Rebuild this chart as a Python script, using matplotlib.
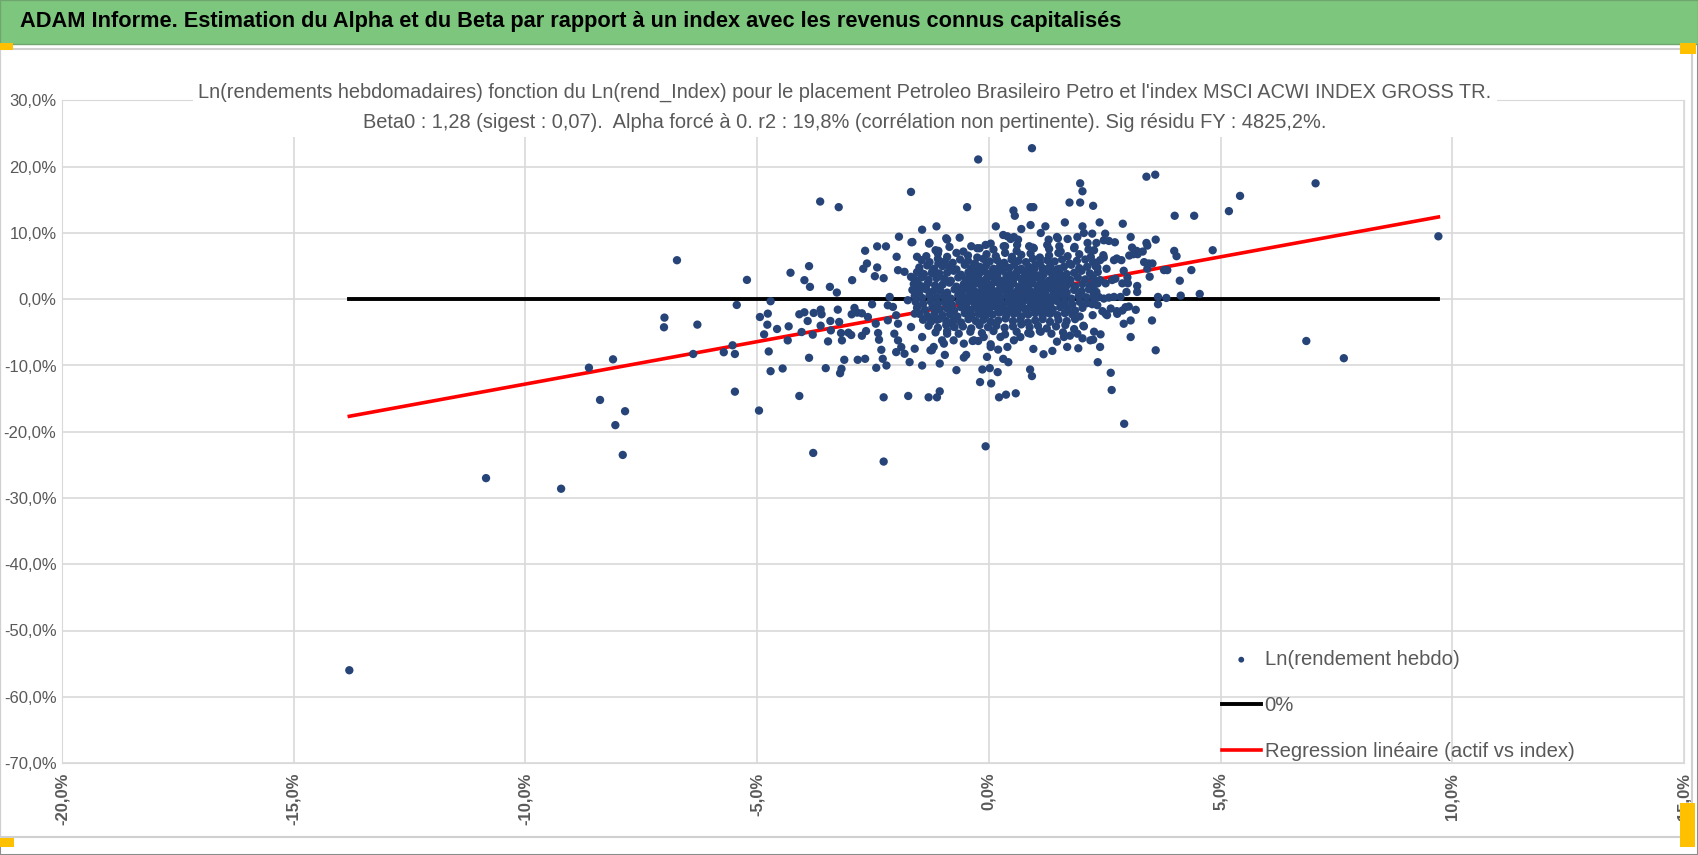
import matplotlib.pyplot as plt
from matplotlib.patches import Rectangle
from matplotlib.ticker import FuncFormatter
import numpy as np

plt.rcParams["font.family"] = ["Liberation Sans Narrow", "Liberation Sans", "DejaVu Sans"]

banner_text = "ADAM Informe. Estimation du Alpha et du Beta par rapport à un index avec les revenus connus capitalisés"
chart_title = ("Ln(rendements hebdomadaires) fonction du Ln(rend_Index) pour le placement Petroleo Brasileiro Petro et l'index MSCI ACWI INDEX GROSS TR.\n"
               "Beta0 : 1,28 (sigest : 0,07).  Alpha forcé à 0. r2 : 19,8% (corrélation non pertinente). Sig résidu FY : 4825,2%.")
legend_labels = ["Ln(rendement hebdo)", "0%", "Regression linéaire (actif vs index)"]
beta = 1.28

# weekly log returns (%), index on x, asset on y -- isolated points
outlier_pts = [(-13.8, -56.0), (-10.85, -27.0), (-9.23, -28.6), (-6.73, 5.89), (-5.22, 2.92), (-5.44, -0.86),
               (-7.0, -2.77), (-7.01, -4.23), (-6.29, -3.83), (-6.38, -8.26), (-5.72, -8.0), (-5.53, -6.95),
               (-5.48, -8.26), (-5.48, -13.95), (-8.63, -10.33), (-8.11, -9.07), (-8.39, -15.2), (-7.85, -16.9),
               (-8.06, -19.0), (-7.9, -23.5), (-2.27, -24.5), (-3.79, -23.2), (-0.07, -22.2), (-4.09, -14.6),
               (-4.96, -16.8), (-2.27, -14.8), (-1.74, -14.6), (7.05, 17.5), (6.85, -6.3), (7.66, -8.9), (9.7, 9.5),
               (3.40, 18.5), (3.59, 18.8), (2.92, -18.8), (2.65, -13.7), (-0.23, 21.1), (0.93, 22.8)]

left_pts = [(-4.71, -0.30), (-4.94, -2.68), (-4.77, -2.17), (-4.78, -3.84), (-4.85, -5.30), (-4.57, -4.49),
            (-4.75, -7.88), (-4.71, -10.86), (-4.45, -10.45), (-4.32, -4.09), (-4.34, -6.21), (-4.09, -2.27),
            (-3.98, -1.97), (-3.91, -3.28), (-3.78, -2.07), (-3.63, -1.57), (-3.61, -2.27), (-3.63, -3.99),
            (-3.80, -5.35), (-4.04, -4.95), (-3.88, -8.84), (-3.52, -10.40), (-3.47, -6.36), (-3.42, -3.28),
            (-3.41, -4.70), (-3.26, -1.57), (-3.23, -3.43), (-3.19, -5.10), (-3.17, -6.21), (-3.12, -9.14),
            (-3.18, -10.5), (-3.21, -11.16), (-3.03, -5.05), (-2.97, -5.40), (-2.96, -2.27), (-2.90, -1.31),
            (-2.84, -2.02), (-2.74, -2.12), (-2.83, -9.14), (-2.67, -8.99), (-2.74, -5.51), (-2.65, -4.80),
            (-2.61, -2.68), (-2.52, -0.76), (-2.44, -3.69), (-2.39, -5.10), (-2.37, -6.11), (-2.32, -7.63),
            (-2.29, -8.99), (-2.43, -10.35), (-2.21, -10.0), (-2.18, -3.18), (-2.18, -0.91), (-2.14, 0.35),
            (-2.07, -1.16), (-2.0, -2.42), (-1.96, -3.69), (-2.04, -5.20), (-1.96, -6.21), (-2.0, -7.98),
            (-1.89, -7.22), (-1.82, -8.23), (-1.71, -9.49), (-1.60, -7.47), (-1.68, -4.19), (-1.60, -2.17),
            (-1.75, -0.15), (-1.60, 1.36), (-1.94, 9.44), (-1.65, 8.64), (-1.99, 6.41), (-1.55, 6.41),
            (-1.96, 4.39), (-1.82, 4.14), (-1.68, 3.38), (-1.53, 2.37), (-3.43, 1.87), (-3.28, 1.01),
            (-2.95, 2.88), (-2.67, 7.32), (-2.63, 5.40), (-2.71, 4.60), (-2.41, 7.98), (-2.22, 7.98),
            (-2.41, 4.80), (-2.46, 3.48), (-2.27, 3.18), (-3.88, 5.0), (-3.98, 2.88), (-3.86, 1.87),
            (-4.28, 4.0), (-3.64, 14.75), (-3.24, 13.9), (-1.68, 16.2),
            (-1.44, -10.0), (-1.30, -14.8), (-1.12, -14.8), (-1.06, -13.9), (-1.06, -9.7), (-1.29, 8.4),
            (-1.09, 7.3), (-0.9, 9.0), (-1.48, 4.1), (-1.37, 1.9), (-1.23, 3.9), (-1.09, 5.4), (-0.94, 2.9),
            (-1.44, -5.7), (-1.23, -7.7), (-1.01, -6.2), (-0.9, -3.7), (-1.19, -2.7), (-0.9, -0.2)]

rim_pts = [(-0.47, 13.9), (0.53, 13.4), (0.56, 12.6), (0.9, 13.9), (0.96, 13.9), (1.97, 17.5), (2.02, 16.3),
           (1.97, 14.6), (1.74, 14.6), (0.15, 11.0), (0.70, 10.6), (0.90, 11.2), (1.22, 11.0), (1.64, 11.6),
           (2.02, 11.0), (0.31, 9.7), (0.40, 9.5), (0.54, 9.4), (1.12, 10.0), (1.49, 9.2), (1.70, 9.1),
           (-1.13, 11.0), (-1.44, 10.5), (-1.67, 8.6), (-0.63, 9.3), (-0.92, 9.2), (-1.28, 8.5), (-0.38, 8.0),
           (-0.25, 7.7), (-0.07, 8.2), (0.04, 8.4), (0.32, 8.0), (0.61, 8.2), (0.87, 8.0), (0.97, 7.7),
           (1.26, 8.2), (1.52, 8.0), (1.84, 7.7), (2.13, 8.5), (0.47, 9.1), (0.63, 9.0), (1.29, 9.0),
           (1.47, 9.4), (1.91, 9.4), (2.05, 10.0),
           (1.93, -7.4), (2.02, -5.9), (2.04, -4.0), (1.75, -5.5), (1.84, -4.5), (1.37, -7.8), (1.18, -8.3),
           (0.96, -7.5), (0.89, -10.6), (0.93, -11.6), (0.58, -14.2), (0.37, -14.4), (0.22, -14.8),
           (0.05, -12.7), (-0.19, -12.5), (-0.14, -10.6), (0.02, -10.4), (0.19, -11.0), (0.42, -9.5),
           (0.31, -9.0), (-0.04, -8.7), (0.2, -7.6), (0.04, -6.8), (-0.70, -10.7), (-0.95, -8.4),
           (-0.54, -8.8), (-0.49, -8.4), (-0.35, -6.3), (-0.23, -6.3), (-0.76, -6.2), (-1.26, -7.7),
           (-1.19, -7.2), (-0.97, -6.7), (-0.54, -6.7), (-0.32, -6.2), (0.04, -7.2), (0.25, -5.7),
           (0.54, -6.2), (0.68, -5.7), (0.90, -5.2), (1.12, -4.9), (1.47, -6.4), (1.62, -5.7), (1.69, -7.2),
           (1.91, -5.2), (2.05, -4.1), (2.27, -4.9), (2.19, -6.2), (-0.90, -5.2), (-0.76, -4.1),
           (-1.12, -3.1), (-0.11, -5.7), (0.40, -7.2)]

right_pts = [(5.42, 15.6), (5.18, 13.3), (4.01, 12.6), (4.43, 12.6), (4.83, 7.4), (2.25, 14.1), (2.39, 11.6),
             (2.89, 11.4), (2.23, 9.9), (2.51, 9.9), (2.32, 8.5), (2.48, 8.9), (2.59, 8.8), (2.72, 8.6),
             (3.06, 9.4), (3.60, 9.0), (3.40, 8.5), (3.42, 8.1), (3.09, 7.8), (3.19, 7.3), (3.12, 6.8),
             (3.03, 6.6), (3.32, 7.2), (3.21, 6.8), (4.0, 7.3), (4.05, 6.5), (3.35, 5.6), (3.45, 5.4),
             (3.53, 5.4), (3.42, 4.6), (3.47, 3.4), (3.78, 4.4), (3.85, 4.4), (4.37, 4.4), (4.12, 2.8),
             (4.55, 0.8), (4.14, 0.55), (3.83, 0.2), (3.65, 0.35), (3.65, -0.75), (3.17, -1.6), (3.52, -3.2),
             (3.06, -3.2), (3.06, -5.7), (3.60, -7.7), (2.91, -3.7), (2.41, -5.3), (2.40, -7.2), (2.25, -6.1),
             (2.35, -9.5), (2.63, -11.1),
             (2.27, 7.4), (2.47, 6.65), (2.48, 6.3), (2.30, 5.5), (2.34, 4.8), (2.54, 4.6), (2.70, 5.9),
             (2.76, 6.15), (2.86, 5.9), (2.91, 4.3), (2.73, 3.1), (2.66, 2.9), (2.52, 2.4), (2.30, 2.3),
             (2.23, 1.4), (2.88, 2.4), (2.99, 3.3), (3.0, 2.4), (2.97, 1.1), (3.20, 2.0), (3.20, 1.1),
             (2.84, 0.35), (2.70, 0.35), (2.59, 0.25), (2.48, 0.1), (2.37, 0.35), (2.27, 0.1), (2.23, -0.75),
             (2.34, -0.9), (2.45, -1.8), (2.52, -2.2), (2.63, -1.4), (2.76, -1.8), (2.88, -1.7), (2.95, -1.2),
             (3.02, -1.1), (2.24, -2.4), (2.55, -2.4), (2.77, -2.2)]

# dense core of the cloud, read row by row
core_pts = [
    (-1.15, 7.4), (-0.85, 7.9), (-0.55, 7.2), (-0.2, 7.7), (0.1, 7.5), (0.35, 8.0), (0.6, 7.3), (0.95, 7.8),
    (1.3, 7.6), (1.55, 7.2), (1.85, 7.9), (2.15, 7.5),
    (-1.35, 6.5), (-1.1, 6.9), (-0.9, 6.4), (-0.7, 7.0), (-0.45, 6.6), (-0.25, 6.3), (-0.05, 6.8), (0.15, 6.5),
    (0.35, 7.0), (0.5, 6.4), (0.7, 6.7), (0.9, 6.9), (1.1, 6.3), (1.3, 6.6), (1.5, 7.0), (1.7, 6.5),
    (1.95, 6.8), (2.2, 6.4),
    (-1.45, 5.9), (-1.28, 5.6), (-1.1, 6.1), (-0.95, 5.7), (-0.78, 5.5), (-0.62, 6.0), (-0.45, 5.8),
    (-0.3, 5.4), (-0.12, 6.1), (0.02, 5.7), (0.18, 5.9), (0.33, 5.5), (0.49, 6.0), (0.64, 5.8), (0.8, 5.6),
    (0.95, 6.1), (1.1, 5.5), (1.26, 5.9), (1.42, 5.7), (1.58, 6.0), (1.74, 5.4), (1.9, 5.8), (2.08, 6.0),
    (2.25, 5.6), (2.4, 5.9),
    (-1.5, 4.8), (-1.33, 5.1), (-1.18, 4.6), (-1.0, 5.0), (-0.85, 4.9), (-0.7, 4.5), (-0.52, 5.2),
    (-0.38, 4.7), (-0.2, 4.9), (-0.06, 5.1), (0.1, 4.6), (0.24, 5.0), (0.4, 4.8), (0.55, 5.2), (0.7, 4.6),
    (0.86, 4.9), (1.0, 5.1), (1.16, 4.7), (1.32, 5.0), (1.47, 4.5), (1.62, 4.9), (1.78, 5.2), (1.95, 4.7),
    (2.12, 4.9), (2.3, 5.0),
    (-1.55, 4.1), (-1.4, 3.8), (-1.22, 4.2), (-1.07, 3.9), (-0.9, 4.0), (-0.76, 4.3), (-0.6, 3.7),
    (-0.44, 4.1), (-0.28, 3.9), (-0.14, 4.2), (0.0, 3.8), (0.15, 4.0), (0.3, 4.3), (0.46, 3.7), (0.6, 4.0),
    (0.75, 4.2), (0.9, 3.9), (1.06, 3.6), (1.2, 4.1), (1.36, 3.9), (1.52, 4.2), (1.68, 3.8), (1.84, 4.0),
    (2.0, 4.3), (2.18, 3.9), (2.35, 4.1),
    (-1.6, 3.0), (-1.45, 3.3), (-1.3, 2.9), (-1.13, 3.2), (-0.97, 3.1), (-0.82, 2.8), (-0.66, 3.3),
    (-0.5, 3.0), (-0.35, 3.2), (-0.2, 2.9), (-0.05, 3.1), (0.1, 3.3), (0.25, 2.8), (0.4, 3.0), (0.55, 3.2),
    (0.7, 3.1), (0.85, 2.9), (1.0, 3.3), (1.14, 3.0), (1.3, 2.8), (1.45, 3.2), (1.6, 3.1), (1.76, 2.9),
    (1.92, 3.3), (2.08, 3.0), (2.25, 3.2), (2.4, 2.9),
    (-1.62, 2.3), (-1.47, 2.0), (-1.32, 2.4), (-1.16, 2.1), (-1.0, 2.2), (-0.85, 2.5), (-0.7, 1.9),
    (-0.54, 2.3), (-0.4, 2.1), (-0.25, 2.4), (-0.1, 2.0), (0.05, 2.2), (0.2, 2.5), (0.35, 2.1), (0.5, 2.3),
    (0.65, 1.9), (0.8, 2.2), (0.95, 2.4), (1.1, 2.0), (1.25, 2.3), (1.4, 2.1), (1.55, 2.5), (1.7, 2.2),
    (1.86, 1.9), (2.02, 2.3), (2.18, 2.1), (2.35, 2.4),
    (-1.65, 1.4), (-1.5, 1.1), (-1.35, 1.5), (-1.2, 1.2), (-1.05, 1.3), (-0.9, 1.0), (-0.74, 1.5),
    (-0.58, 1.2), (-0.43, 1.4), (-0.28, 1.1), (-0.13, 1.3), (0.02, 1.6), (0.17, 1.2), (0.32, 1.4),
    (0.47, 1.0), (0.62, 1.3), (0.77, 1.5), (0.92, 1.1), (1.07, 1.4), (1.22, 1.2), (1.37, 1.5), (1.52, 1.3),
    (1.68, 1.0), (1.84, 1.4), (2.0, 1.2), (2.16, 1.5), (2.32, 1.1),
    (-1.6, 0.5), (-1.44, 0.2), (-1.28, 0.6), (-1.12, 0.3), (-0.97, 0.4), (-0.82, 0.1), (-0.66, 0.6),
    (-0.5, 0.3), (-0.36, 0.5), (-0.2, 0.2), (-0.05, 0.4), (0.1, 0.7), (0.25, 0.3), (0.4, 0.5), (0.56, 0.1),
    (0.7, 0.4), (0.86, 0.6), (1.0, 0.2), (1.16, 0.5), (1.3, 0.3), (1.46, 0.6), (1.62, 0.4), (1.78, 0.1),
    (1.94, 0.5), (2.1, 0.3), (2.26, 0.6),
    (-1.58, -0.4), (-1.42, -0.7), (-1.26, -0.3), (-1.1, -0.6), (-0.95, -0.5), (-0.8, -0.8), (-0.64, -0.3),
    (-0.48, -0.6), (-0.33, -0.4), (-0.18, -0.7), (-0.03, -0.5), (0.12, -0.2), (0.27, -0.6), (0.42, -0.4),
    (0.57, -0.8), (0.72, -0.5), (0.88, -0.3), (1.03, -0.7), (1.18, -0.4), (1.33, -0.6), (1.48, -0.3),
    (1.64, -0.5), (1.8, -0.8), (1.96, -0.4), (2.12, -0.6),
    (-1.55, -1.3), (-1.38, -1.6), (-1.22, -1.2), (-1.06, -1.5), (-0.9, -1.4), (-0.75, -1.7), (-0.6, -1.2),
    (-0.44, -1.5), (-0.29, -1.3), (-0.14, -1.6), (0.01, -1.4), (0.16, -1.1), (0.31, -1.5), (0.46, -1.3),
    (0.62, -1.7), (0.77, -1.4), (0.92, -1.2), (1.08, -1.6), (1.23, -1.3), (1.38, -1.5), (1.54, -1.2),
    (1.7, -1.4), (1.86, -1.7), (2.02, -1.3),
    (-1.5, -2.2), (-1.33, -2.5), (-1.17, -2.1), (-1.0, -2.4), (-0.84, -2.3), (-0.68, -2.6), (-0.52, -2.1),
    (-0.37, -2.4), (-0.22, -2.2), (-0.07, -2.5), (0.08, -2.3), (0.23, -2.0), (0.38, -2.4), (0.54, -2.2),
    (0.7, -2.6), (0.85, -2.3), (1.0, -2.1), (1.16, -2.5), (1.32, -2.2), (1.48, -2.4), (1.64, -2.1),
    (1.8, -2.3), (1.96, -2.6),
    (-1.42, -3.1), (-1.25, -3.4), (-1.08, -3.0), (-0.92, -3.3), (-0.76, -3.2), (-0.6, -3.5), (-0.44, -3.0),
    (-0.28, -3.3), (-0.12, -3.1), (0.04, -3.4), (0.2, -3.2), (0.36, -2.9), (0.52, -3.3), (0.68, -3.1),
    (0.84, -3.5), (1.0, -3.2), (1.16, -3.0), (1.32, -3.4), (1.5, -3.1), (1.68, -3.3), (1.86, -3.0),
    (-1.3, -4.0), (-1.1, -4.3), (-0.92, -3.9), (-0.74, -4.2), (-0.56, -4.1), (-0.38, -4.4), (-0.2, -3.9),
    (-0.02, -4.2), (0.16, -4.0), (0.34, -4.3), (0.52, -4.1), (0.7, -3.8), (0.88, -4.2), (1.06, -4.0),
    (1.25, -4.4), (1.45, -4.1), (1.65, -3.9),
    (-1.15, -5.0), (-0.9, -4.8), (-0.65, -5.2), (-0.4, -4.9), (-0.15, -5.1), (0.1, -4.8), (0.35, -5.3),
    (0.6, -4.9), (0.85, -5.1), (1.1, -4.8), (1.35, -5.2), (1.6, -5.0),
    (-0.3, 4.4), (-0.1, 4.6), (0.08, 4.3), (0.26, 4.5), (0.44, 4.7), (0.62, 4.4), (0.8, 4.2), (0.98, 4.6),
    (1.16, 4.5), (1.34, 4.3), (1.52, 4.6),
    (-0.42, 3.5), (-0.22, 3.7), (-0.02, 3.4), (0.18, 3.6), (0.38, 3.5), (0.58, 3.8), (0.78, 3.4), (0.98, 3.6),
    (1.18, 3.7), (1.38, 3.5), (1.58, 3.4),
    (-0.48, 2.7), (-0.28, 2.5), (-0.08, 2.8), (0.12, 2.6), (0.32, 2.7), (0.52, 2.5), (0.72, 2.8), (0.92, 2.6),
    (1.12, 2.7), (1.32, 2.5), (1.52, 2.8), (1.72, 2.6),
    (-0.55, 1.8), (-0.35, 1.6), (-0.15, 1.9), (0.05, 1.7), (0.25, 1.8), (0.45, 1.6), (0.65, 1.9), (0.85, 1.7),
    (1.05, 1.6), (1.25, 1.8), (1.45, 1.9), (1.65, 1.7),
    (-0.6, 0.9), (-0.4, 0.7), (-0.2, 1.0), (0.0, 0.8), (0.2, 0.9), (0.4, 0.7), (0.6, 1.0), (0.8, 0.8),
    (1.0, 0.7), (1.2, 0.9), (1.4, 1.0), (1.6, 0.8),
    (-0.55, 0.0), (-0.35, -0.2), (-0.15, 0.1), (0.05, -0.1), (0.25, 0.0), (0.45, -0.2), (0.65, 0.1),
    (0.85, -0.1), (1.05, -0.2), (1.25, 0.0), (1.45, 0.1),
    (-0.5, -0.9), (-0.3, -1.1), (-0.1, -0.8), (0.1, -1.0), (0.3, -0.9), (0.5, -1.1), (0.7, -0.8), (0.9, -1.0),
    (1.1, -1.1), (1.3, -0.9),
    (-0.4, -1.8), (-0.2, -2.0), (0.0, -1.7), (0.2, -1.9), (0.4, -1.8), (0.6, -2.0), (0.8, -1.7), (1.0, -1.9),
    (1.2, -2.0)]

all_pts = outlier_pts + left_pts + rim_pts + right_pts + core_pts
x_idx = np.array([p[0] for p in all_pts])
y_act = np.array([p[1] for p in all_pts])

W, H = 1698, 855
fig = plt.figure(figsize=(W / 100, H / 100), dpi=100)

# frame, banner and selection handles
fig.patches.append(Rectangle((0, 0), 1, 1, transform=fig.transFigure, fill=False, edgecolor="#8c8c8c", lw=1.5))
fig.patches.append(Rectangle((0, 1 - 44 / H), 1, 44 / H, transform=fig.transFigure,
                             facecolor="#7DC67D", edgecolor="#6fa56f", lw=1))
fig.patches.append(Rectangle((0, 1 - 837 / H), 1692 / W, 788 / H, transform=fig.transFigure,
                             fill=False, edgecolor="#d0d0d0", lw=1.5))
for (hx, hy, hw, hh) in [(0, 43, 13, 7), (1680, 43, 16, 11), (0, 838, 14, 9), (1680, 803, 15, 44)]:
    fig.patches.append(Rectangle((hx / W, 1 - (hy + hh) / H), hw / W, hh / H, transform=fig.transFigure,
                                 facecolor="#FFC000", edgecolor="none"))
fig.text(20 / W, 1 - 22 / H, banner_text, fontsize=15.7, fontweight="bold", color="black", va="center", ha="left")

ax = fig.add_axes([62 / W, 1 - 763 / H, 1622 / W, 662.5 / H])
x_line = np.array([x_idx.min(), x_idx.max()])
ax.plot(x_line, np.zeros(2), color="black", lw=2.8, zorder=2, label=legend_labels[1])
ax.plot(x_line, beta * x_line, color="#FF0000", lw=2.6, zorder=3, label=legend_labels[2])
ax.scatter(x_idx, y_act, s=36, color="#264478", edgecolors="none", zorder=4, label=legend_labels[0])

ax.set_xlim(-20, 15)
ax.set_ylim(-70, 30)
ax.set_xticks(np.arange(-20, 16, 5))
ax.set_yticks(np.arange(-70, 31, 10))
pct = FuncFormatter(lambda v, pos: f"{v:.1f}%".replace(".", ","))
ax.xaxis.set_major_formatter(pct)
ax.yaxis.set_major_formatter(pct)
ax.grid(True, color="#d9d9d9", lw=1.2, zorder=0)
ax.set_axisbelow(True)
for s in ax.spines.values():
    s.set_color("#d9d9d9")
ax.tick_params(length=0, colors="#595959")
ax.tick_params(axis="y", labelsize=12, pad=4)
ax.tick_params(axis="x", labelsize=12, pad=7, labelrotation=90)
for lab in ax.get_xticklabels():
    lab.set_fontweight("bold")

h, l = ax.get_legend_handles_labels()
order = [2, 0, 1]
leg = ax.legend([h[i] for i in order], [l[i] for i in order], loc="upper left",
                bbox_to_anchor=(1222 / W, 1 - 650 / H), bbox_transform=fig.transFigure,
                frameon=False, fontsize=14.6, labelspacing=1.33, handlelength=1.9, handletextpad=0.2,
                borderpad=0, borderaxespad=0, markerscale=0.7)
for t in leg.get_texts():
    t.set_color("#595959")

fig.text(845 / W, 1 - 107 / H, chart_title, fontsize=14.4, color="#595959", ha="center", va="center",
         linespacing=1.75, zorder=5, bbox=dict(facecolor="white", edgecolor="none", pad=4))

fig.savefig("out.png", dpi=100)
